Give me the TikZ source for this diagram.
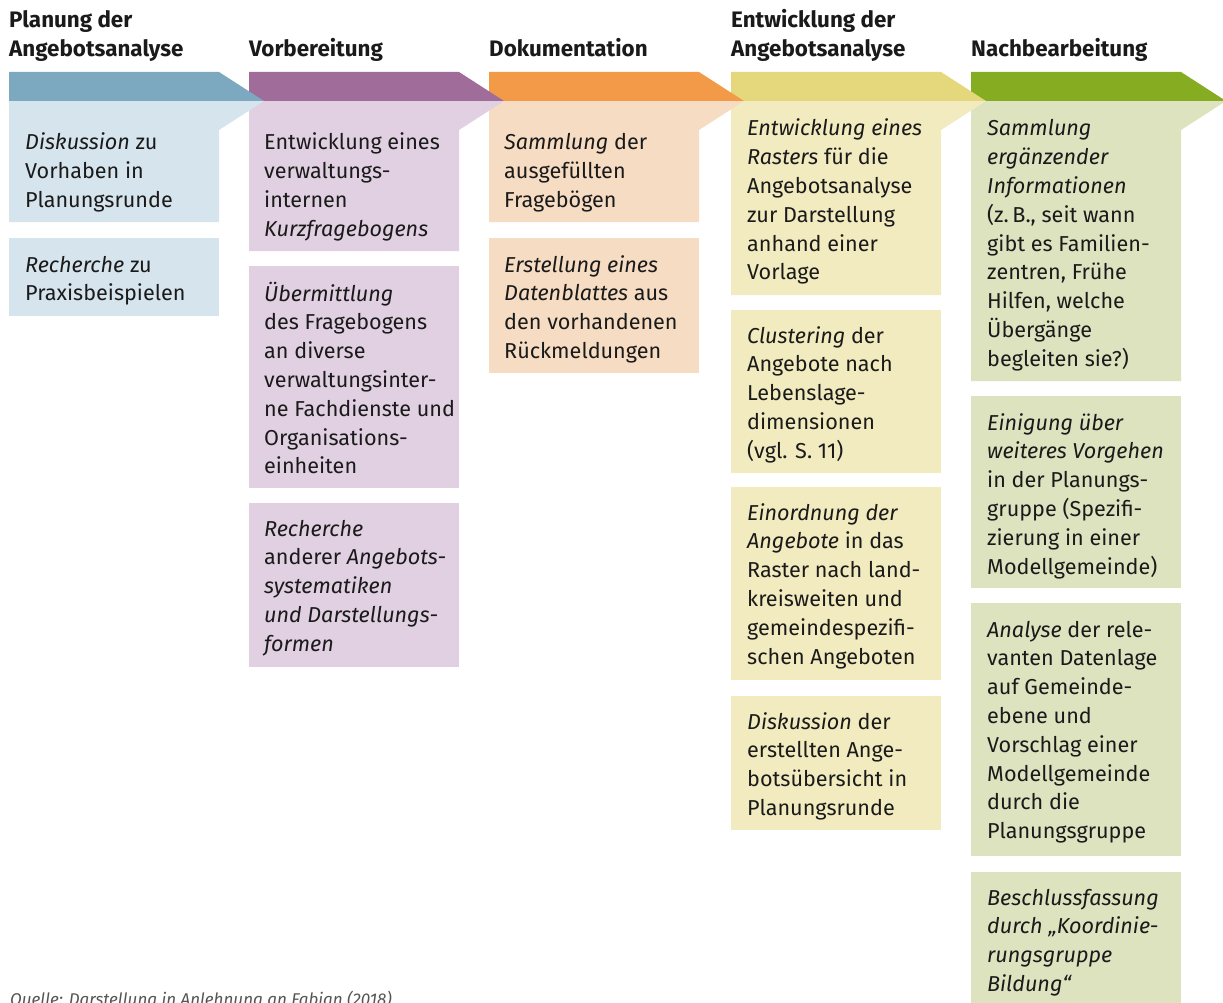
\documentclass[tikz,border=0pt]{standalone}
\usepackage{fontspec}
\setmainfont{Fira Sans}
\definecolor{inkdark}{HTML}{1A1A1A}
\definecolor{capgray}{HTML}{555555}
\definecolor{blueD}{HTML}{7CA9BF}
\definecolor{blueL}{HTML}{D6E4ED}
\definecolor{plumD}{HTML}{A06C99}
\definecolor{plumL}{HTML}{E0D0E2}
\definecolor{orangeD}{HTML}{F39A48}
\definecolor{orangeL}{HTML}{F5DCC2}
\definecolor{sandD}{HTML}{E4D77C}
\definecolor{sandL}{HTML}{F2EBBF}
\definecolor{greenD}{HTML}{86AC22}
\definecolor{greenL}{HTML}{DDE3BF}
\newcommand\bodytype{\fontsize{21.6}{28.8}\selectfont}
\newcommand\headtype{\fontsize{22.4}{29}\selectfont\bfseries}
% lines of a card, aligned on the baseline of the first line
\newcommand\cardlines[1]{\begin{tabular}[t]{@{}l@{}}#1\end{tabular}}
% phase column: #1 left x, #2 band colour, #3 card colour, #4 bottom of first card
\newcommand\phasecol[4]{%
  \fill[#3] (#1,101) -- (#1+255,101) -- (#1+210,130) -- (#1+210,#4) -- (#1,#4) -- cycle;
  \fill[#2] (#1,72) -- (#1+210,72) -- (#1+255,101) -- (#1,101) -- cycle;}
\tikzset{
  cardtext/.style={anchor=base west, inner sep=0pt, text=inkdark, font=\bodytype},
  headtext/.style={anchor=base west, inner sep=0pt, text=inkdark, font=\headtype},
}
\begin{document}
\begin{tikzpicture}[x=1pt,y=-1pt]
\useasboundingbox (0,0) rectangle (1223,1003);
\fill[white] (0,0) rectangle (1223,1003);

% phase bands, right to left so each arrow tip lies over its neighbour
\phasecol{971}{greenD}{greenL}{381}
\phasecol{731}{sandD}{sandL}{295}
\phasecol{489}{orangeD}{orangeL}{222}
\phasecol{249}{plumD}{plumL}{251}
\phasecol{9}{blueD}{blueL}{222}

% further cards
\fill[blueL]   (9,238)   rectangle (219,316);
\fill[plumL]   (249,266) rectangle (459,488);
\fill[plumL]   (249,503) rectangle (459,667);
\fill[orangeL] (489,238) rectangle (699,373);
\fill[sandL]   (731,310) rectangle (941,473);
\fill[sandL]   (731,487) rectangle (941,680);
\fill[sandL]   (731,696) rectangle (941,830);
\fill[greenL]  (971,396) rectangle (1181,588);
\fill[greenL]  (971,603) rectangle (1181,856);
\fill[greenL]  (971,872) rectangle (1181,1003);

% phase titles
\node[headtext] (h1) at (9,28)   {\cardlines{Planung der\\Angebotsanalyse}};
\node[headtext] (h2) at (249,57) {Vorbereitung};
\node[headtext] (h3) at (489,57) {Dokumentation};
\node[headtext] (h4) at (731,28) {\cardlines{Entwicklung der\\Angebotsanalyse}};
\node[headtext] (h5) at (971,57) {Nachbearbeitung};

% Planung der Angebotsanalyse
\node[cardtext] (a1) at (25,150) {\cardlines{\textit{Diskussion} zu\\Vorhaben in\\Planungsrunde}};
\node[cardtext] (a2) at (25,272) {\cardlines{\textit{Recherche} zu\\Praxisbeispielen}};

% Vorbereitung
\node[cardtext] (b1) at (264,150) {\cardlines{Entwicklung eines\\verwaltungs-\\internen\\\textit{Kurzfragebogens}}};
\node[cardtext] (b2) at (264,301) {\cardlines{\textit{Übermittlung}\\des Fragebogens\\an diverse\\verwaltungsinter-\\ne Fachdienste und\\Organisations-\\einheiten}};
\node[cardtext] (b3) at (264,536) {\cardlines{\textit{Recherche}\\anderer \textit{Angebots-}\\\textit{systematiken}\\\textit{und Darstellungs-}\\\textit{formen}}};

% Dokumentation
\node[cardtext] (c1) at (504,150) {\cardlines{\textit{Sammlung} der\\ausgefüllten\\Fragebögen}};
\node[cardtext] (c2) at (504,272) {\cardlines{\textit{Erstellung eines}\\\textit{Datenblattes} aus\\den vorhandenen\\Rückmeldungen}};

% Entwicklung der Angebotsanalyse
\node[cardtext] (d1) at (747,136) {\cardlines{\textit{Entwicklung eines}\\\textit{Rasters} für die\\Angebotsanalyse\\zur Darstellung\\anhand einer\\Vorlage}};
\node[cardtext] (d2) at (747,343) {\cardlines{\textit{Clustering} der\\Angebote nach\\Lebenslage-\\dimensionen\\(vgl. S.~11)}};
\node[cardtext] (d3) at (747,520) {\cardlines{\textit{Einordnung der}\\\textit{Angebote} in das\\Raster nach land-\\kreisweiten und\\gemeindespezifi-\\schen Angeboten}};
\node[cardtext] (d4) at (747,729) {\cardlines{\textit{Diskussion} der\\erstellten Ange-\\botsübersicht in\\Planungsrunde}};

% Nachbearbeitung
\node[cardtext] (e1) at (987,136) {\cardlines{\textit{Sammlung}\\\textit{ergänzender}\\\textit{Informationen}\\(z.\,B., seit wann\\gibt es Familien-\\zentren, Frühe\\Hilfen, welche\\Übergänge\\begleiten sie?)}};
\node[cardtext] (e2) at (987,430) {\cardlines{\textit{Einigung über}\\\textit{weiteres Vorgehen}\\in der Planungs-\\gruppe (Spezifi-\\zierung in einer\\Modellgemeinde)}};
\node[cardtext] (e3) at (987,637) {\cardlines{\textit{Analyse} der rele-\\vanten Datenlage\\auf Gemeinde-\\ebene und\\Vorschlag einer\\Modellgemeinde\\durch die\\Planungsgruppe}};
\node[cardtext] (e4) at (987,905) {\cardlines{\textit{Beschlussfassung}\\\textit{durch „Koordinie-}\\\textit{rungsgruppe}\\\textit{Bildung“}}};

% source line
\node[anchor=base west, inner sep=0pt, text=capgray, font=\fontsize{17}{20}\selectfont\itshape] (src) at (10,1005) {Quelle: Darstellung in Anlehnung an Fabian (2018)};
\end{tikzpicture}
\end{document}
